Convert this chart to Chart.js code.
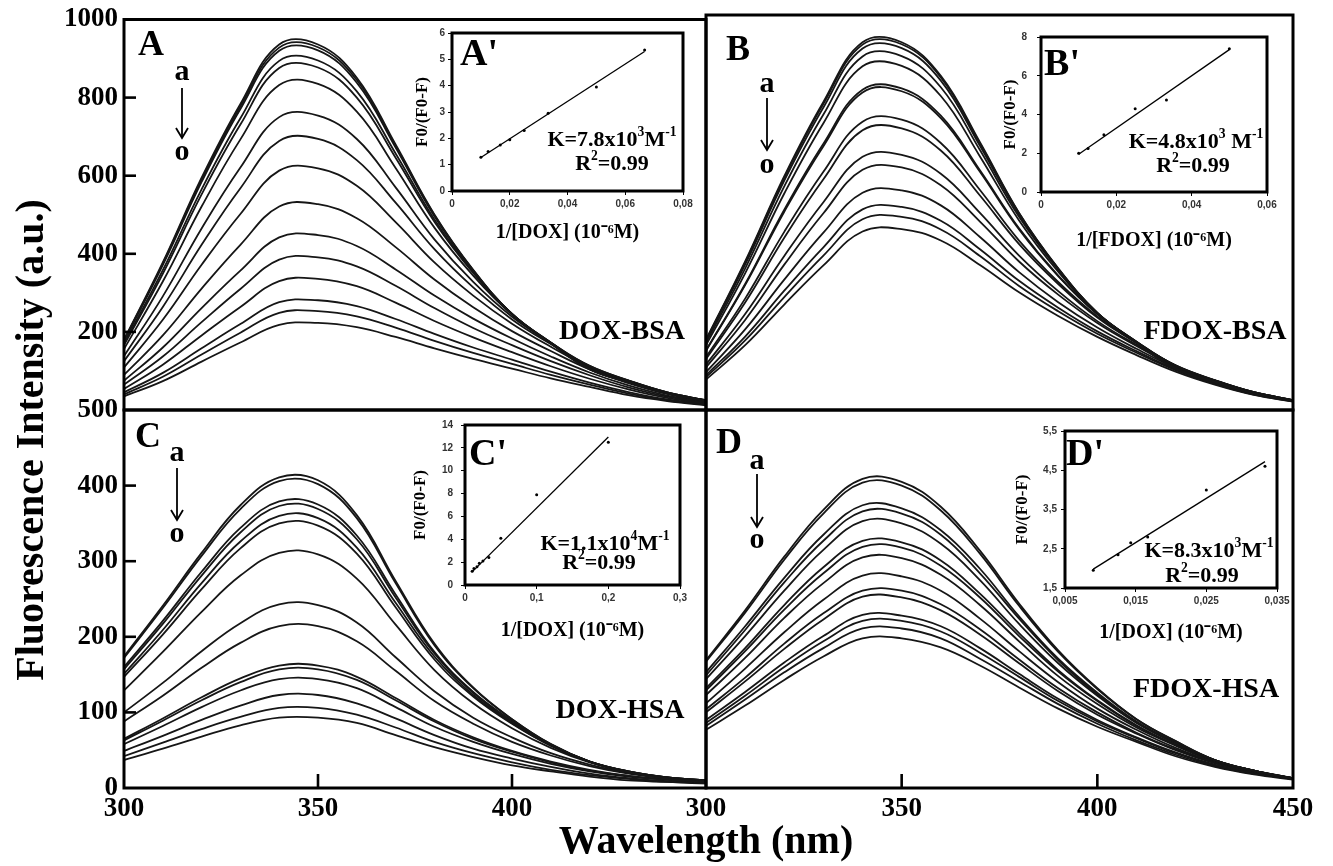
<!DOCTYPE html>
<html><head><meta charset="utf-8">
<script src="https://cdn.jsdelivr.net/npm/chart.js@4.4.1/dist/chart.umd.min.js"></script>
<style>
html,body{margin:0;padding:0;background:#fff;}
#wrap{position:relative;width:1333px;height:866px;overflow:hidden;background:#fff;}
canvas{position:absolute;left:0;top:0;}
.t{position:absolute;font-family:'Liberation Serif','Times New Roman',serif;font-weight:bold;color:#000;white-space:nowrap;line-height:1;transform:translate(-50%,-50%);}
.t sup{font-size:62%;line-height:0;vertical-align:0.75em;}
</style></head>
<body><div id="wrap">
<canvas id="cA" width="1333" height="866"></canvas>
<canvas id="cB" width="1333" height="866"></canvas>
<canvas id="cC" width="1333" height="866"></canvas>
<canvas id="cD" width="1333" height="866"></canvas>
<canvas id="iA" width="1333" height="866"></canvas>
<canvas id="iB" width="1333" height="866"></canvas>
<canvas id="iC" width="1333" height="866"></canvas>
<canvas id="iD" width="1333" height="866"></canvas>
<svg width="1333" height="866" style="position:absolute;left:0;top:0">
<g stroke="#000" stroke-width="1.8" fill="none">
<line x1="182" y1="88" x2="182" y2="137"/><polyline points="176,128 182,138 188,128"/>
<line x1="767" y1="98" x2="767" y2="149"/><polyline points="761,140 767,150 773,140"/>
<line x1="177" y1="468" x2="177" y2="519"/><polyline points="171,510 177,520 183,510"/>
<line x1="757" y1="474" x2="757" y2="526"/><polyline points="751,517 757,527 763,517"/>
</g></svg>
<div class="t" style="left:151px;top:43px;font-size:36px">A</div>
<div class="t" style="left:182px;top:70px;font-size:30px">a</div>
<div class="t" style="left:182px;top:150px;font-size:30px">o</div>
<div class="t" style="left:738px;top:48px;font-size:36px">B</div>
<div class="t" style="left:767px;top:82px;font-size:30px">a</div>
<div class="t" style="left:767px;top:163px;font-size:30px">o</div>
<div class="t" style="left:148px;top:435px;font-size:36px">C</div>
<div class="t" style="left:177px;top:451px;font-size:30px">a</div>
<div class="t" style="left:177px;top:532px;font-size:30px">o</div>
<div class="t" style="left:729px;top:441px;font-size:36px">D</div>
<div class="t" style="left:757px;top:459px;font-size:30px">a</div>
<div class="t" style="left:757px;top:538px;font-size:30px">o</div>
<div class="t" style="left:622px;top:330px;font-size:28px">DOX-BSA</div>
<div class="t" style="left:1215px;top:330px;font-size:28px">FDOX-BSA</div>
<div class="t" style="left:620px;top:709px;font-size:28px">DOX-HSA</div>
<div class="t" style="left:1206px;top:688px;font-size:28px">FDOX-HSA</div>
<div class="t" style="left:706px;top:840px;font-size:40px">Wavelength (nm)</div>
<div class="t" style="left:30px;top:440px;font-size:40px;transform:translate(-50%,-50%) rotate(-90deg)">Fluorescence Intensity (a.u.)</div>
<div class="t" style="left:479px;top:52px;font-size:38px">A'</div>
<div class="t" style="left:612px;top:139px;font-size:22px">K=7.8x10<sup>3</sup>M<sup>-1</sup></div>
<div class="t" style="left:612px;top:163px;font-size:22px">R<sup>2</sup>=0.99</div>
<div class="t" style="left:1062px;top:62px;font-size:38px">B'</div>
<div class="t" style="left:1196px;top:141px;font-size:22px">K=4.8x10<sup>3</sup> M<sup>-1</sup></div>
<div class="t" style="left:1193px;top:165px;font-size:22px">R<sup>2</sup>=0.99</div>
<div class="t" style="left:488px;top:452px;font-size:38px">C'</div>
<div class="t" style="left:605px;top:543px;font-size:22px">K=1.1x10<sup>4</sup>M<sup>-1</sup></div>
<div class="t" style="left:599px;top:562px;font-size:22px">R<sup>2</sup>=0.99</div>
<div class="t" style="left:1085px;top:452px;font-size:38px">D'</div>
<div class="t" style="left:1209px;top:550px;font-size:22px">K=8.3x10<sup>3</sup>M<sup>-1</sup></div>
<div class="t" style="left:1202px;top:575px;font-size:22px">R<sup>2</sup>=0.99</div>
</div>
<script>
// ---------- data ----------
const wavelengths = [300,310,320,330,340,350,360,370,380,390,400,410,420,430,440,450];

// Panel A: DOX-BSA (curves a..o, top to bottom)
const curvesA = [
 [180,378,595,784,936,936,851,680,501,359,246,170,104,71,43,24],
 [178,375,590,778,928,929,845,676,499,358,246,171,105,71,42,24],
 [176,371,584,771,920,921,838,672,496,357,246,171,105,72,43,24],
 [170,358,565,747,894,895,816,657,488,354,246,172,107,73,43,24],
 [166,349,552,731,876,877,800,646,482,351,246,173,108,73,44,24],
 [156,329,521,693,832,835,764,620,467,344,244,173,111,75,45,25],
 [138,291,465,621,750,754,694,570,437,328,239,172,113,76,45,25],
 [125,264,423,568,689,694,640,531,412,314,232,169,113,75,45,25],
 [109,231,372,502,613,619,574,481,378,293,221,162,110,73,43,24],
 [90,191,311,423,521,527,491,417,334,263,202,151,104,69,41,22],
 [75,160,261,357,442,448,420,360,293,234,183,137,96,63,37,21],
 [65,137,225,310,385,391,368,318,261,210,166,125,89,58,34,19],
 [54,116,191,264,330,336,317,275,228,186,148,112,80,53,31,17],
 [45,95,158,220,276,281,266,233,195,160,129,98,70,46,27,15],
 [40,85,142,198,249,253,240,211,177,146,118,90,65,42,25,14],
 [35,74,124,173,218,223,212,187,158,131,106,81,59,38,23,12]
];
// Panel B: FDOX-BSA
const curvesB = [
 [178,376,592,780,931,931,846,678,499,359,246,170,104,71,42,24],
 [177,373,588,775,925,926,842,675,498,358,246,171,105,71,42,24],
 [175,368,581,766,915,916,834,669,495,357,245,170,106,72,42,24],
 [170,358,566,748,895,896,817,658,489,355,246,172,107,73,43,24],
 [164,346,548,726,870,871,795,642,480,350,245,173,109,74,44,24],
 [151,319,507,674,811,814,745,607,460,340,243,173,112,75,45,25],
 [150,316,502,668,804,807,739,603,457,339,243,173,112,75,45,25],
 [134,282,451,603,730,735,676,557,429,324,237,171,113,76,45,25],
 [129,272,436,584,708,713,657,543,420,319,234,170,113,75,45,25],
 [115,243,390,526,641,646,598,499,391,301,225,165,112,74,44,24],
 [108,228,368,498,608,614,569,477,376,292,220,162,110,73,43,24],
 [96,204,330,449,550,556,518,438,349,273,209,155,107,71,42,23],
 [88,186,302,412,508,514,479,407,327,259,199,149,103,68,40,22],
 [83,176,286,391,483,489,457,390,314,250,193,145,101,66,39,22],
 [77,164,267,366,452,458,429,367,298,238,185,139,97,64,38,21]
];
// Panel C: DOX-HSA
const curvesC = [
 [174,241,311,374,411,407,361,274,191,133,91,58,35,21,12,8],
 [172,238,307,369,406,402,357,271,189,132,91,58,35,21,13,8],
 [160,221,286,344,379,375,334,256,180,127,89,57,35,21,13,9],
 [157,217,281,338,373,369,329,252,178,126,87,57,35,22,14,9],
 [151,209,271,326,360,357,318,245,174,123,86,56,35,22,14,10],
 [147,203,263,317,350,347,310,239,170,121,85,56,35,22,14,10],
 [129,180,233,281,311,309,277,216,156,112,79,53,34,22,14,10],
 [100,139,181,218,243,242,219,173,128,93,67,46,31,20,14,10],
 [88,122,159,192,214,214,194,155,115,85,61,43,29,19,13,10],
 [65,92,120,145,162,162,147,119,90,67,49,35,24,16,11,8],
 [63,89,116,140,157,157,143,116,88,65,48,34,23,16,11,8],
 [58,82,107,129,144,144,132,107,81,61,45,32,22,15,11,8],
 [49,69,90,109,123,123,112,92,70,52,39,28,19,13,9,7],
 [42,60,78,94,106,106,97,80,61,46,34,24,17,12,8,6],
 [37,52,68,83,93,93,86,70,54,41,30,22,15,10,8,6]
];
// Panel D: FDOX-HSA
const curvesD = [
 [169,235,306,368,409,405,372,314,244,182,132,91,62,37,23,12],
 [167,232,302,363,404,400,367,310,241,180,131,91,62,37,23,12],
 [153,214,278,335,374,370,341,290,227,171,126,88,60,37,23,13],
 [149,209,272,327,366,363,335,284,224,169,124,87,60,37,23,13],
 [144,201,261,315,353,350,323,275,217,165,122,86,59,37,23,13],
 [132,185,242,292,327,325,301,257,205,156,116,83,57,36,23,13],
 [129,181,236,284,319,318,294,252,201,154,115,82,57,36,23,13],
 [123,172,225,271,305,304,282,242,194,148,111,80,56,35,22,13],
 [112,158,206,249,281,280,261,224,181,140,105,77,53,34,22,13],
 [104,146,191,231,261,261,243,210,170,132,100,73,51,33,21,13],
 [100,141,184,223,253,252,235,203,165,128,97,72,50,33,21,12],
 [90,127,166,201,229,228,214,185,151,118,90,67,47,31,20,12],
 [86,122,160,194,221,221,207,179,147,115,88,66,46,30,19,12],
 [82,117,153,185,211,211,198,171,141,111,85,63,44,29,19,12],
 [77,109,143,174,198,198,186,162,133,105,81,61,42,28,18,11]
];

// Insets (Stern-Volmer / binding plots)
const insetA_x = [0.01,0.0125,0.0167,0.02,0.025,0.0333,0.05,0.0667];
const insetA_y = [1.28,1.5,1.75,1.95,2.3,2.95,3.95,5.35];
const insetA_fitX = [0.01,0.0667];
const insetA_fitY = [1.27,5.3];

const insetB_x = [0.01,0.0125,0.0167,0.025,0.0333,0.05];
const insetB_y = [2.0,2.25,2.95,4.3,4.75,7.4];
const insetB_fitX = [0.01,0.05];
const insetB_fitY = [1.95,7.35];

const insetC_x = [0.01,0.0125,0.0167,0.02,0.025,0.0333,0.05,0.1,0.2];
const insetC_y = [1.2,1.45,1.6,1.9,2.1,2.4,4.1,7.9,12.5];
const insetC_fitX = [0.01,0.2];
const insetC_fitY = [1.15,12.95];

const insetD_x = [0.009,0.0125,0.0143,0.0167,0.025,0.0333];
const insetD_y = [1.95,2.35,2.65,2.8,4.0,4.6];
const insetD_fitX = [0.009,0.0333];
const insetD_fitY = [1.98,4.72];

// ---------- plugins ----------
const framePlugin = {id:'frame', afterDraw(c, a, o){
  if(!o || !o.w) return;
  const {left,top,right,bottom} = c.chartArea; const ctx = c.ctx;
  ctx.save(); ctx.strokeStyle='#000'; ctx.lineWidth=o.w;
  ctx.strokeRect(left,top,right-left,bottom-top); ctx.restore();
}};
const inTicksPlugin = {id:'inTicks', afterDraw(c, a, o){
  if(!o) return;
  const ctx=c.ctx, ca=c.chartArea, len=o.len||12;
  ctx.save(); ctx.strokeStyle='#000'; ctx.lineWidth=2.6;
  (o.y||[]).forEach(v=>{const p=c.scales.y.getPixelForValue(v); ctx.beginPath(); ctx.moveTo(ca.left,p); ctx.lineTo(ca.left+len,p); ctx.stroke();});
  (o.x||[]).forEach(v=>{const p=c.scales.x.getPixelForValue(v); ctx.beginPath(); ctx.moveTo(p,ca.bottom); ctx.lineTo(p,ca.bottom-len-2); ctx.stroke();});
  ctx.restore();
}};
Chart.register(framePlugin, inTicksPlugin);

const serif = "'Liberation Serif','Times New Roman',serif";
const tickFont = {family: serif, weight:'bold', size:27, lineHeight:1};

function spectra(id, curves, cfg){
  return new Chart(document.getElementById(id), {
    type:'line',
    data:{datasets: curves.map(c=>({
      data: wavelengths.map((w,i)=>({x:w, y:c[i]})),
      borderColor:'#161616', borderWidth:1.8, pointRadius:0, tension:0.4, fill:false
    }))},
    options:{
      responsive:false, animation:false, devicePixelRatio:1, events:[],
      layout:{padding:cfg.pad},
      plugins:{legend:{display:false}, tooltip:{enabled:false}, frame:{w:3}, inTicks:cfg.ticks},
      scales:{
        x:{type:'linear', min:300, max:450, display:cfg.xShow,
           afterFit:s=>{ s.height = cfg.xShow ? 40 : 0; },
           ticks:{stepSize:50, autoSkip:false, maxRotation:0, callback:cfg.xCb, font:tickFont, color:'#000', padding:8},
           grid:{display:false, drawTicks:false}, border:{display:false}},
        y:{type:'linear', min:0, max:cfg.ymax, display:cfg.yShow,
           afterFit:s=>{ s.width = cfg.yShow ? 124 : 0; },
           ticks:{stepSize:cfg.ystep, autoSkip:false, callback:cfg.yCb, font:tickFont, color:'#000', padding:6},
           grid:{display:false, drawTicks:false}, border:{display:false}}
      }
    }
  });
}

spectra('cA', curvesA, {pad:{left:0,right:627,top:15,bottom:456}, xShow:false, yShow:true, ymax:1000, ystep:200,
  yCb:v=> v===0 ? '' : v, ticks:{y:[200,400,600,800], len:12}});
spectra('cB', curvesB, {pad:{left:706,right:40,top:15,bottom:456}, xShow:false, yShow:false, ymax:1000, ystep:200});
spectra('cC', curvesC, {pad:{left:0,right:627,top:410,bottom:38}, xShow:true, yShow:true, ymax:500, ystep:100,
  xCb:v=> v===450 ? '' : v, yCb:v=>v, ticks:{y:[100,200,300,400], x:[350,400], len:12}});
spectra('cD', curvesD, {pad:{left:706,right:40,top:410,bottom:38}, xShow:true, yShow:false, ymax:500, ystep:100,
  xCb:v=>v, ticks:{x:[350,400], len:12}});

const fmt = v => String(+v.toFixed(4)).replace('.', ',');
const smallFont = {family:"'Liberation Sans',Arial,sans-serif", weight:'bold', size:10};

function inset(id, xs, ys, fx, fy, cfg){
  return new Chart(document.getElementById(id), {
    type:'scatter',
    data:{datasets:[
      {data: xs.map((x,i)=>({x, y:ys[i]})), pointRadius:1.5, pointBackgroundColor:'#000', pointBorderWidth:0, showLine:false},
      {data: fx.map((x,i)=>({x, y:fy[i]})), showLine:true, pointRadius:0, borderColor:'#000', borderWidth:1.3}
    ]},
    options:{
      responsive:false, animation:false, devicePixelRatio:1, events:[],
      layout:{padding:cfg.pad},
      plugins:{legend:{display:false}, tooltip:{enabled:false}, frame:{w:3}},
      scales:{
        x:{type:'linear', min:cfg.x[0], max:cfg.x[1],
           afterFit:s=>{s.height=cfg.xH;},
           ticks:{stepSize:cfg.x[2], autoSkip:false, maxRotation:0, callback:fmt, font:smallFont, color:'#333', padding:3},
           grid:{display:true, drawOnChartArea:false, tickLength:4, color:'#000'},
           border:{display:true, color:'#000', width:2},
           title:{display:true, text:cfg.xt, font:{family:serif, weight:'bold', size:20}, color:'#000', padding:{top:2,bottom:4}}},
        y:{type:'linear', min:cfg.y[0], max:cfg.y[1],
           afterFit:s=>{s.width=cfg.yW;},
           ticks:{stepSize:cfg.y[2], autoSkip:false, callback:fmt, font:smallFont, color:'#333', padding:cfg.yp},
           grid:{display:true, drawOnChartArea:false, tickLength:4, color:'#000'},
           border:{display:true, color:'#000', width:2},
           title:{display:true, text:'F0/(F0-F)', font:{family:serif, weight:'bold', size:17}, color:'#000', padding:{top:4,bottom:2}}}
      }
    }
  });
}

inset('iA', insetA_x, insetA_y, insetA_fitX, insetA_fitY,
  {pad:{left:408,right:650,top:33,bottom:617}, xH:58, yW:44, yp:3, x:[0,0.08,0.02], y:[0,6,1], xt:'1/[DOX] (10\u207B\u2076M)'});
inset('iB', insetB_x, insetB_y, insetB_fitX, insetB_fitY,
  {pad:{left:996,right:66,top:37,bottom:609}, xH:65, yW:45, yp:10, x:[0,0.06,0.02], y:[0,8,2], xt:'1/[FDOX] (10\u207B\u2076M)'});
inset('iC', insetC_x, insetC_y, insetC_fitX, insetC_fitY,
  {pad:{left:406,right:653,top:425,bottom:219}, xH:62, yW:59, yp:8, x:[0,0.3,0.1], y:[0,14,2], xt:'1/[DOX] (10\u207B\u2076M)'});
inset('iD', insetD_x, insetD_y, insetD_fitX, insetD_fitY,
  {pad:{left:1008,right:56,top:431,bottom:217}, xH:61, yW:57, yp:4, x:[0.005,0.035,0.01], y:[1.5,5.5,1], xt:'1/[DOX] (10\u207B\u2076M)'});
</script>
</body></html>
